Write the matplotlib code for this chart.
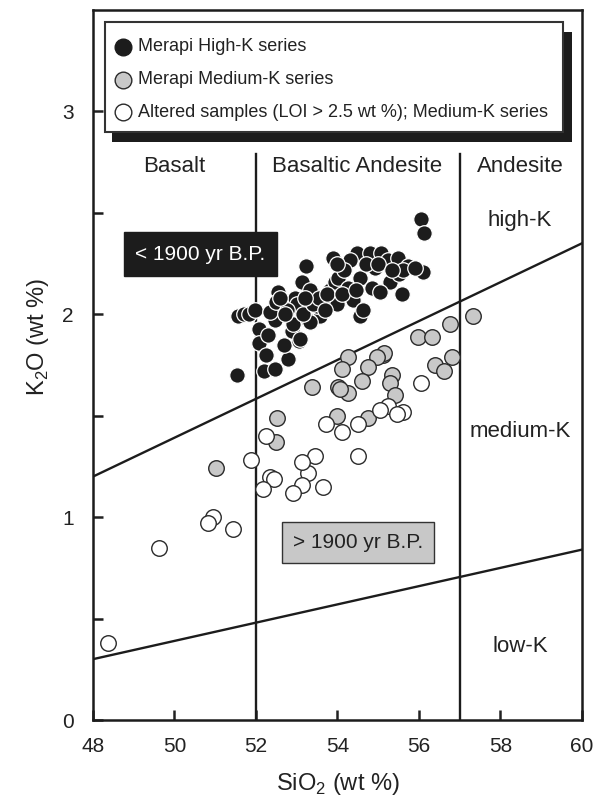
import matplotlib
matplotlib.use("Agg")
import matplotlib.pyplot as plt
from matplotlib.patches import Rectangle
from matplotlib.lines import Line2D

plt.rcParams['font.family'] = ['Liberation Sans', 'DejaVu Sans']
plt.rcParams['mathtext.fontset'] = 'custom'
plt.rcParams['mathtext.rm'] = 'Liberation Sans'

# Merapi high-K series (SiO2, K2O)
hk_sio2 = [51.53, 51.57, 51.70, 51.83, 51.98, 52.07, 52.07, 52.24, 52.20, 52.47,
           52.79, 52.69, 53.06, 52.88, 52.90, 52.47, 52.34, 52.55, 52.50, 52.88,
           53.08, 53.12, 53.23, 53.33, 53.57, 53.65, 53.82, 53.94, 53.89, 53.28,
           53.49, 54.47, 54.31, 54.80, 55.08, 55.24, 54.92, 55.48, 55.73, 56.10,
           54.02, 54.56, 55.29, 54.26, 54.84, 55.04, 55.58, 54.39, 53.98, 54.56,
           54.63, 53.08, 53.33, 56.06, 56.12, 52.95, 53.00, 53.15, 53.40, 53.55,
           53.70, 53.75, 54.10, 54.15, 54.00, 54.70, 55.00, 55.50, 55.60, 55.90,
           55.35, 54.45, 53.20, 52.75, 52.70, 52.30, 52.60]
hk_k2o = [1.70, 1.99, 2.00, 2.00, 2.02, 1.93, 1.86, 1.80, 1.72, 1.73,
          1.78, 1.85, 1.87, 1.92, 1.95, 1.97, 2.01, 2.11, 2.06, 2.06,
          2.03, 2.16, 2.24, 2.12, 1.99, 2.06, 2.12, 2.16, 2.28, 1.97,
          2.04, 2.30, 2.27, 2.30, 2.30, 2.27, 2.23, 2.28, 2.24, 2.21,
          2.18, 2.18, 2.16, 2.13, 2.13, 2.11, 2.10, 2.07, 2.05, 1.99,
          2.02, 1.88, 1.96, 2.47, 2.40, 2.08, 2.05, 2.00, 2.05, 2.08,
          2.02, 2.10, 2.10, 2.22, 2.25, 2.25, 2.25, 2.20, 2.22, 2.23,
          2.22, 2.12, 2.08, 2.02, 2.00, 1.90, 2.08]

# Merapi medium-K series
mk_sio2 = [57.33, 56.76, 55.98, 56.31, 56.80, 56.39, 56.61, 55.12, 55.15, 54.96,
           54.75, 54.25, 54.10, 54.59, 54.02, 54.26, 53.37, 55.33, 55.29, 55.41,
           53.98, 54.75, 52.52, 52.48, 51.02, 54.07]
mk_k2o = [1.99, 1.95, 1.89, 1.89, 1.79, 1.75, 1.72, 1.80, 1.81, 1.79,
          1.74, 1.79, 1.73, 1.67, 1.64, 1.61, 1.64, 1.70, 1.66, 1.60,
          1.50, 1.49, 1.49, 1.37, 1.24, 1.63]

# altered samples (LOI > 2.5 wt %)
alt_sio2 = [56.06, 55.24, 55.04, 55.61, 55.45, 54.51, 53.73, 54.10, 54.51, 53.45,
            53.28, 53.12, 52.25, 51.87, 53.12, 52.90, 53.64, 52.35, 52.44, 52.18,
            50.94, 50.82, 51.44, 49.63, 48.37]
alt_k2o = [1.66, 1.55, 1.53, 1.52, 1.51, 1.46, 1.46, 1.42, 1.30, 1.30,
           1.22, 1.27, 1.40, 1.28, 1.16, 1.12, 1.15, 1.20, 1.19, 1.14,
           1.00, 0.97, 0.94, 0.85, 0.38]

# classification boundaries
highk_line_x = [48, 60]
highk_line_y = [1.2, 2.35]
lowk_line_x = [48, 60]
lowk_line_y = [0.30, 0.84]
rock_bounds = [52, 57]
rock_top = 2.79

x_ticks = [48, 50, 52, 54, 56, 58, 60]
y_ticks = [0, 1, 2, 3]

dark = '#1c1c1c'
grey = '#c8c8c8'
msize = 125

fig = plt.figure(figsize=(5.95, 8.01), dpi=100)
ax = fig.add_axes([0.1563, 0.1011, 0.8218, 0.8864])

ax.set_xlim(48, 60)
ax.set_ylim(0, 3.5)

for s in ax.spines.values():
    s.set_linewidth(1.8)
    s.set_color(dark)

ax.set_xticks(x_ticks)
ax.set_yticks(y_ticks)
ax.set_yticks([0.5, 1.5, 2.5], minor=True)
ax.tick_params(which='both', direction='in', width=1.8, color=dark)
ax.tick_params(which='major', length=7, labelsize=15, colors='#222222')
ax.tick_params(which='minor', length=7)
ax.tick_params(axis='x', pad=12)
ax.tick_params(axis='y', pad=14)

ax.set_xlabel(r'SiO$_\mathregular{2}$ (wt %)', fontsize=17, color='#222222', labelpad=11)
ax.set_ylabel(r'K$_\mathregular{2}$O (wt %)', fontsize=17, color='#222222')
ax.yaxis.set_label_coords(-0.085, 0.54)

# boundary lines
ax.plot(highk_line_x, highk_line_y, color=dark, lw=1.7, zorder=2)
ax.plot(lowk_line_x, lowk_line_y, color=dark, lw=1.7, zorder=2)
for xb in rock_bounds:
    ax.plot([xb, xb], [0, rock_top], color=dark, lw=1.7, zorder=2)

# samples
ax.scatter(mk_sio2, mk_k2o, s=msize, c=grey, edgecolors='#2a2a2a', linewidths=1.0, zorder=3)
ax.scatter(alt_sio2, alt_k2o, s=msize, c='white', edgecolors='#2a2a2a', linewidths=1.0, zorder=4)
ax.scatter(hk_sio2, hk_k2o, s=msize, c=dark, edgecolors='white', linewidths=0.9, zorder=5)

# rock names and K-series labels
lab = dict(fontsize=16, color='#222222', ha='center', va='center')
ax.text(50.0, 2.73, 'Basalt', **lab)
ax.text(54.48, 2.73, 'Basaltic Andesite', **lab)
ax.text(58.48, 2.73, 'Andesite', **lab)
ax.text(58.48, 2.46, 'high-K', **lab)
ax.text(58.48, 1.42, 'medium-K', **lab)
ax.text(58.48, 0.36, 'low-K', **lab)

# age boxes
ax.add_patch(Rectangle((48.76, 2.187), 3.76, 0.217, facecolor=dark, edgecolor=dark, zorder=6))
ax.text(50.64, 2.295, '< 1900 yr B.P.', fontsize=15, color='white', ha='center', va='center', zorder=7)
ax.add_patch(Rectangle((52.64, 0.775), 3.73, 0.202, facecolor=grey, edgecolor='#333333', lw=1.0, zorder=6))
ax.text(54.5, 0.876, '> 1900 yr B.P.', fontsize=15, color='#222222', ha='center', va='center', zorder=7)

# legend box with drop shadow
ax.add_patch(Rectangle((0.0389, 0.814), 0.941, 0.155, transform=ax.transAxes,
                       facecolor=dark, edgecolor='none', zorder=8))
ax.add_patch(Rectangle((0.0245, 0.828), 0.9365, 0.155, transform=ax.transAxes,
                       facecolor='white', edgecolor='#333333', lw=1.5, zorder=9))
entries = [
    (dark, 'Merapi High-K series'),
    (grey, 'Merapi Medium-K series'),
    ('white', 'Altered samples (LOI > 2.5 wt %); Medium-K series'),
]
for i, (fc, txt) in enumerate(entries):
    yy = 0.948 - i * 0.046
    ax.add_line(Line2D([0.061], [yy], transform=ax.transAxes, marker='o', markersize=12,
                       markerfacecolor=fc, markeredgecolor='#2a2a2a' if fc != dark else dark,
                       markeredgewidth=1.0, zorder=10))
    ax.text(0.092, yy, txt, transform=ax.transAxes, fontsize=13, color='#222222',
            ha='left', va='center', zorder=10)

fig.savefig('out.png', dpi=100)
